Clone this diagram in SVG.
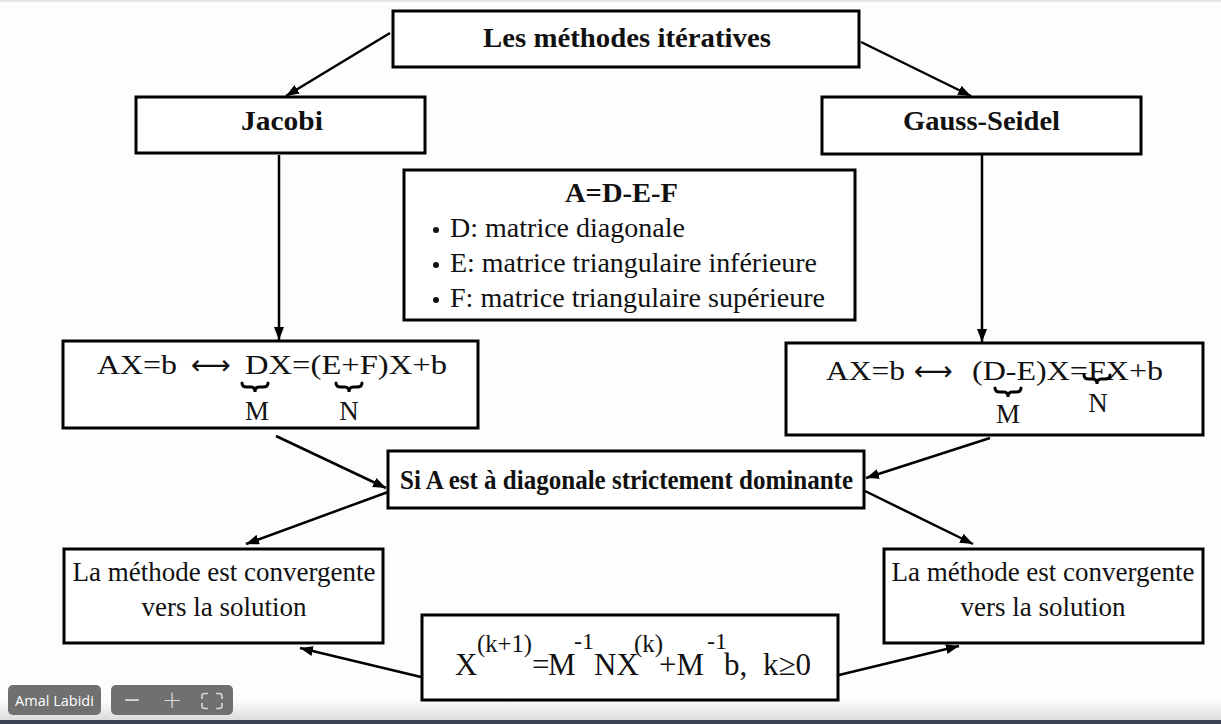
<svg xmlns="http://www.w3.org/2000/svg" width="1221" height="724" viewBox="0 0 1221 724">
<defs>
<style>
.box{fill:#fff;stroke:#000;stroke-width:3}
.t{font-family:"Liberation Serif","Times New Roman",serif;fill:#111}
.b{font-weight:bold}
.c{stroke:#000;stroke-width:2.5;fill:none;marker-end:url(#ah)}
.br{stroke:#000;stroke-width:3;fill:none;stroke-linecap:round}
.ov{fill:#707070}
.ovt{font-family:"Open Sans","Noto Sans",sans-serif;fill:#fff}
</style>
<marker id="ah" markerUnits="userSpaceOnUse" markerWidth="14" markerHeight="12" refX="13" refY="5" orient="auto">
<path d="M0,0 L13,5 L0,10 z" fill="#000"/>
</marker>
<linearGradient id="shade" x1="0" y1="0" x2="0" y2="1">
<stop offset="0" stop-color="#fdfdfd"/>
<stop offset="1" stop-color="#dcdcdc"/>
</linearGradient>
</defs>
<rect x="0" y="0" width="1221" height="724" fill="#fdfdfd"/>
<rect x="0" y="0" width="1221" height="2" fill="#e6e6e6"/>
<rect x="0" y="700" width="1221" height="20" fill="url(#shade)"/>
<rect x="0" y="720" width="1221" height="4" fill="#3b4452"/>

<g id="connectors">
<path class="c" d="M390,33 L286,96"/>
<path class="c" d="M861,42 L971,96"/>
<path class="c" d="M279,155 L279,340"/>
<path class="c" d="M982,155 L982,342"/>
<path class="c" d="M276,436 L386,488"/>
<path class="c" d="M990,438 L866,478"/>
<path class="c" d="M388,492 L246,544"/>
<path class="c" d="M865,491 L973,544"/>
<path class="c" d="M421,677 L300,648"/>
<path class="c" d="M839,675 L959,646"/>
</g>

<g id="n-top">
<rect class="box" x="393" y="11" width="466" height="56"/>
<text class="t b" x="483" y="47" font-size="28" textLength="288" lengthAdjust="spacingAndGlyphs">Les méthodes itératives</text>
</g>

<g id="n-jacobi">
<rect class="box" x="136" y="97" width="289" height="56"/>
<text class="t b" x="241" y="130" font-size="27" textLength="82" lengthAdjust="spacingAndGlyphs">Jacobi</text>
</g>

<g id="n-gauss">
<rect class="box" x="822" y="97" width="319" height="57"/>
<text class="t b" x="903" y="130" font-size="27" textLength="157" lengthAdjust="spacingAndGlyphs">Gauss-Seidel</text>
</g>

<g id="n-adef">
<rect class="box" x="404" y="170" width="451" height="150"/>
<text class="t b" x="565" y="202" font-size="27" textLength="113" lengthAdjust="spacingAndGlyphs">A=D-E-F</text>
<circle cx="436" cy="230" r="3" fill="#111"/>
<circle cx="436" cy="265" r="3" fill="#111"/>
<circle cx="436" cy="300" r="3" fill="#111"/>
<text class="t" x="450" y="237" font-size="26.5" textLength="235" lengthAdjust="spacingAndGlyphs">D: matrice diagonale</text>
<text class="t" x="450" y="272" font-size="26.5" textLength="367" lengthAdjust="spacingAndGlyphs">E: matrice triangulaire inférieure</text>
<text class="t" x="450" y="307" font-size="26.5" textLength="375" lengthAdjust="spacingAndGlyphs">F: matrice triangulaire supérieure</text>
</g>

<g id="n-jacobi-eq">
<rect class="box" x="63" y="341" width="415" height="87"/>
<text class="t" x="97" y="374" font-size="27" textLength="80" lengthAdjust="spacingAndGlyphs">AX=b</text>
<text x="191" y="374" font-size="27" font-family="DejaVu Sans,sans-serif" fill="#111" textLength="40" lengthAdjust="spacingAndGlyphs">⟷</text>
<text class="t" x="245" y="374" font-size="27" textLength="202" lengthAdjust="spacingAndGlyphs">DX=(E+F)X+b</text>
<path class="br" d="M242,383 Q242,387 247,387 L251,387 Q255,387 255,392 Q255,387 259,387 L263,387 Q268,387 268,383"/>
<path class="br" d="M336,383 Q336,387 341,387 L345,387 Q349,387 349,392 Q349,387 353,387 L357,387 Q362,387 362,383"/>
<text class="t" x="257" y="420" font-size="27" text-anchor="middle">M</text>
<text class="t" x="349" y="420" font-size="27" text-anchor="middle">N</text>
</g>

<g id="n-gauss-eq">
<rect class="box" x="786" y="343" width="417" height="92"/>
<text class="t" x="826" y="380" font-size="27" textLength="79" lengthAdjust="spacingAndGlyphs">AX=b</text>
<text x="914" y="380" font-size="27" font-family="DejaVu Sans,sans-serif" fill="#111" textLength="39" lengthAdjust="spacingAndGlyphs">⟷</text>
<text class="t" x="972" y="380" font-size="27" textLength="191" lengthAdjust="spacingAndGlyphs">(D-E)X=FX+b</text>
<path class="br" d="M995,388 Q995,392 1000,392 L1004,392 Q1008,392 1008,397 Q1008,392 1012,392 L1016,392 Q1021,392 1021,388"/>
<path class="br" d="M1084,375 Q1084,379 1089,379 L1093,379 Q1097,379 1097,384 Q1097,379 1101,379 L1105,379 Q1110,379 1110,375"/>
<text class="t" x="1008" y="423" font-size="27" text-anchor="middle">M</text>
<text class="t" x="1098" y="412" font-size="27" text-anchor="middle">N</text>
</g>

<g id="n-cond">
<rect class="box" x="388" y="451" width="476" height="57"/>
<text class="t b" x="400" y="489" font-size="27" textLength="453" lengthAdjust="spacingAndGlyphs">Si A est à diagonale strictement dominante</text>
</g>

<g id="n-conv-left">
<rect class="box" x="64" y="549" width="319" height="94"/>
<text class="t" x="224" y="581" font-size="27" text-anchor="middle">La méthode est convergente</text>
<text class="t" x="224" y="616" font-size="27" text-anchor="middle">vers la solution</text>
</g>

<g id="n-conv-right">
<rect class="box" x="884" y="549" width="319" height="94"/>
<text class="t" x="1043" y="581" font-size="27" text-anchor="middle">La méthode est convergente</text>
<text class="t" x="1043" y="616" font-size="27" text-anchor="middle">vers la solution</text>
</g>

<g id="n-iter">
<rect class="box" x="422" y="615" width="416" height="85"/>
<text class="t" x="455" y="675" font-size="31">X</text>
<text class="t" x="477" y="652" font-size="25" textLength="55" lengthAdjust="spacingAndGlyphs">(k+1)</text>
<text class="t" x="532" y="675" font-size="31">=</text>
<text class="t" x="548" y="675" font-size="31">M</text>
<text class="t" x="574" y="649" font-size="24">-1</text>
<text class="t" x="594" y="675" font-size="31">NX</text>
<text class="t" x="634" y="652" font-size="25">(k)</text>
<text class="t" x="659" y="675" font-size="31">+M</text>
<text class="t" x="707" y="649" font-size="24">-1</text>
<text class="t" x="724" y="675" font-size="31">b,</text>
<text class="t" x="763" y="675" font-size="31">k≥0</text>
</g>

<g id="overlay">
<rect class="ov" x="8" y="685" width="93" height="30" rx="5"/>
<text class="ovt" x="54.5" y="706" font-size="14.5" text-anchor="middle">Amal Labidi</text>
<rect class="ov" x="111" y="685" width="122" height="30" rx="5"/>
<text x="132" y="707" font-size="22" font-family="DejaVu Sans,sans-serif" fill="#d8d8d8" text-anchor="middle">−</text>
<text x="172" y="708" font-size="24" font-family="DejaVu Sans,sans-serif" font-weight="200" fill="#d8d8d8" text-anchor="middle">+</text>
<path d="M202,699 L202,696 Q202,693.5 205,693.5 L208,693.5 M216,693.5 L219,693.5 Q222,693.5 222,696 L222,699 M222,703 L222,706 Q222,708.5 219,708.5 L216,708.5 M208,708.5 L205,708.5 Q202,708.5 202,706 L202,703" stroke="#d8d8d8" stroke-width="1.6" fill="none"/>
</g>
</svg>
